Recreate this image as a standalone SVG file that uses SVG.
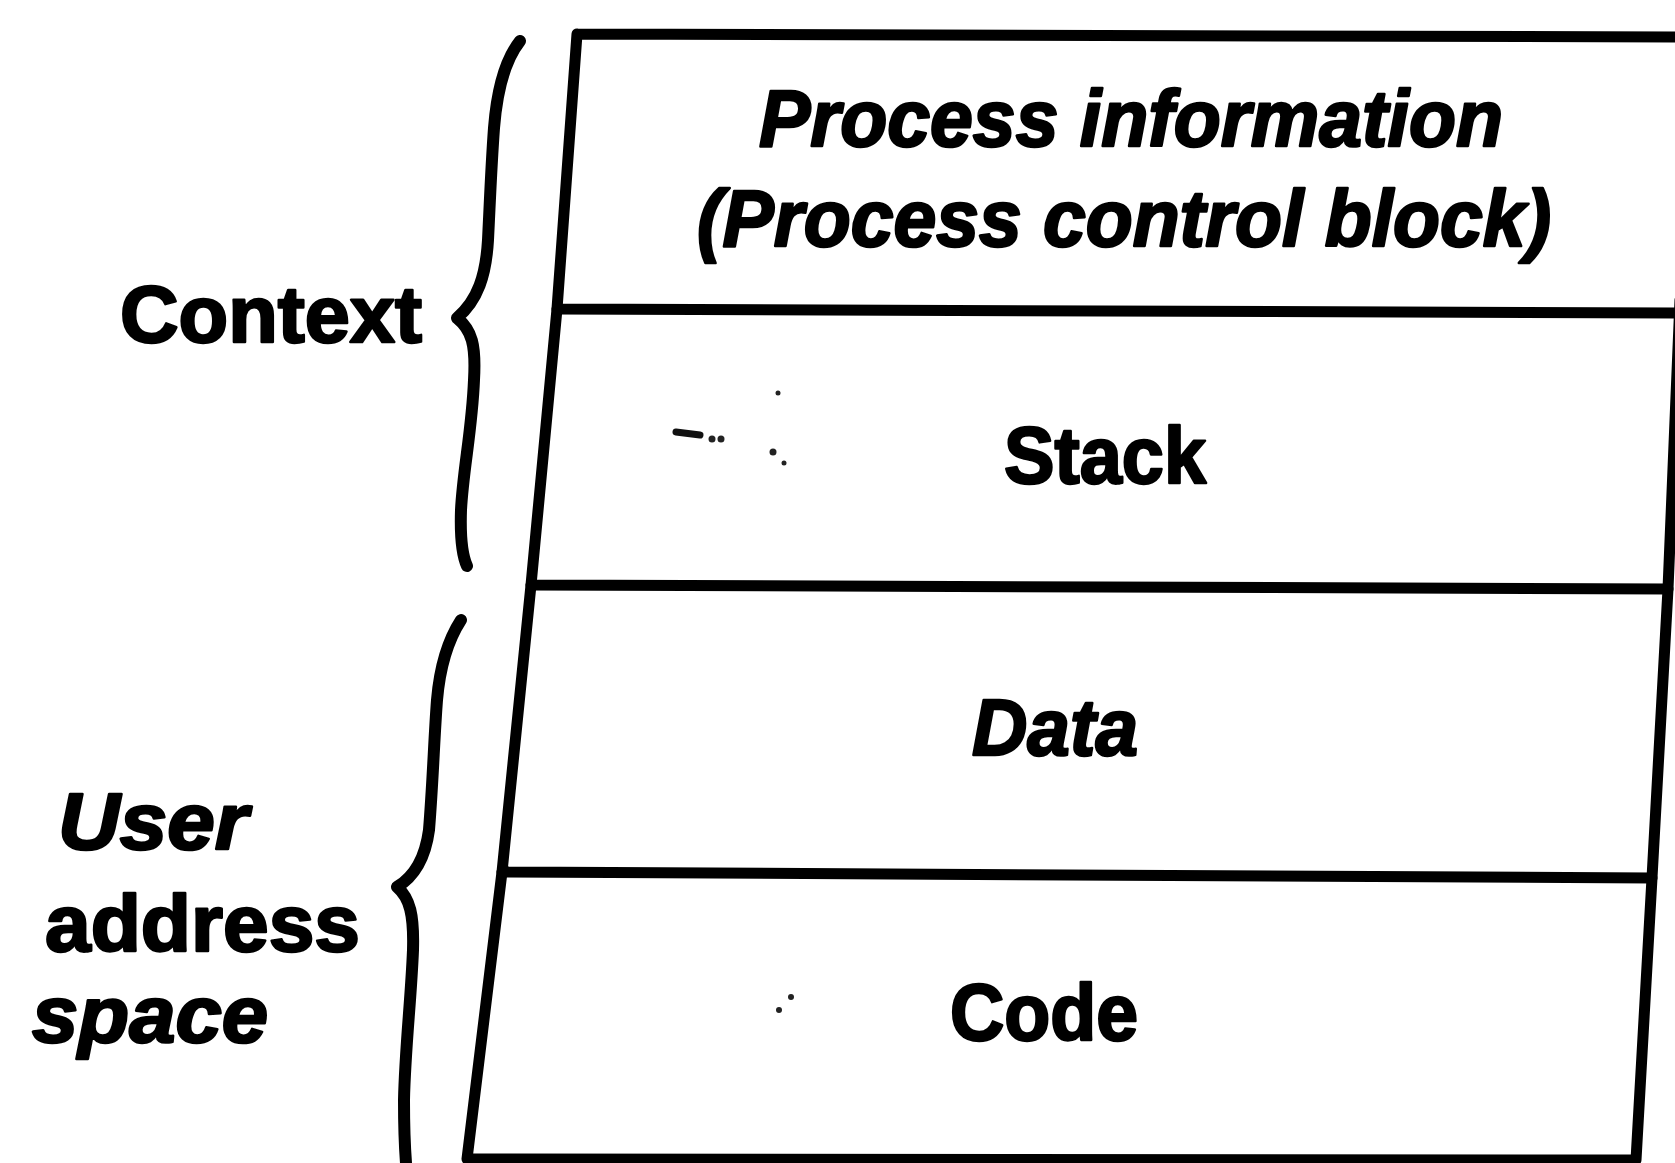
<svg xmlns="http://www.w3.org/2000/svg" width="1675" height="1163" viewBox="0 0 1675 1163">
  <style>
    .edge { fill: none; stroke: #000; stroke-width: 11; stroke-linecap: round; stroke-linejoin: round; }
    .brace { fill: none; stroke: #000; stroke-width: 12; stroke-linecap: round; stroke-linejoin: round; }
    .lbl { font-family: "Liberation Sans", Arial, Helvetica, sans-serif; font-weight: bold; font-size: 80px; fill: #000; stroke: #000; stroke-width: 2.5; stroke-linejoin: round; }
    .it { font-style: italic; }
    .speck { fill: #222; }
  </style>

  <rect width="1675" height="1163" fill="#fff"/>

  <!-- Process control block segment -->
  <g id="pcb">
    <path class="edge" d="M577,34 L1680,37 M577,34 L557,309 M557,309 L1680,313"/>
    <text class="lbl it" x="1131" y="146" text-anchor="middle" textLength="744" lengthAdjust="spacingAndGlyphs">Process information</text>
    <text class="lbl it" x="1124" y="246" text-anchor="middle" textLength="854" lengthAdjust="spacingAndGlyphs">(Process control block)</text>
  </g>

  <!-- Stack segment -->
  <g id="stack">
    <path class="edge" d="M557,309 L531,585 M531,585 L1668,589 M1680,300 L1668,589"/>
    <text class="lbl" x="1004" y="483" textLength="202" lengthAdjust="spacingAndGlyphs">Stack</text>
  </g>

  <!-- Data segment -->
  <g id="data">
    <path class="edge" d="M531,585 L502,872 M502,872 L1652,878 M1668,589 L1652,878"/>
    <text class="lbl it" x="972" y="755" textLength="166" lengthAdjust="spacingAndGlyphs">Data</text>
  </g>

  <!-- Code segment -->
  <g id="code">
    <path class="edge" d="M502,872 L467,1159 L1636,1160 L1652,878"/>
    <text class="lbl" x="950" y="1040" textLength="188" lengthAdjust="spacingAndGlyphs">Code</text>
  </g>

  <!-- Curly braces grouping the segments -->
  <g id="brackets">
    <path id="context-brace" class="brace" d="M520,41 C505,60 497,90 494,128 C491,170 490,200 488,240 C486,275 478,300 457,318 C472,330 476,345 474,380 C472,430 463,470 461,510 C460,540 462,555 467,566"/>
    <path id="user-brace" class="brace" d="M461,620 C448,640 440,665 437,700 C434,740 433,780 429,830 C425,860 412,878 397,887 C410,898 414,915 413,950 C411,1000 405,1050 404,1100 C404,1130 405,1150 406,1163"/>
  </g>

  <!-- Side labels -->
  <g id="context-label">
    <text class="lbl" x="120" y="342" textLength="302" lengthAdjust="spacingAndGlyphs">Context</text>
  </g>
  <g id="user-label">
    <text class="lbl it" x="58" y="849" textLength="190" lengthAdjust="spacingAndGlyphs">User</text>
    <text class="lbl" x="45" y="951" textLength="315" lengthAdjust="spacingAndGlyphs">address</text>
    <text class="lbl it" x="32" y="1042" textLength="236" lengthAdjust="spacingAndGlyphs">space</text>
  </g>

  <!-- small print specks -->
  <g id="specks">
    <path d="M676,432 L700,435" stroke="#111" stroke-width="7" stroke-linecap="round"/>
    <circle class="speck" cx="712" cy="439" r="3.5"/>
    <circle class="speck" cx="721" cy="439" r="3.5"/>
    <circle class="speck" cx="778" cy="393" r="2.5"/>
    <circle class="speck" cx="773" cy="452" r="3.5"/>
    <circle class="speck" cx="784" cy="463" r="2.5"/>
    <circle class="speck" cx="779" cy="1010" r="3"/>
    <circle class="speck" cx="791" cy="997" r="3"/>
  </g>
</svg>
